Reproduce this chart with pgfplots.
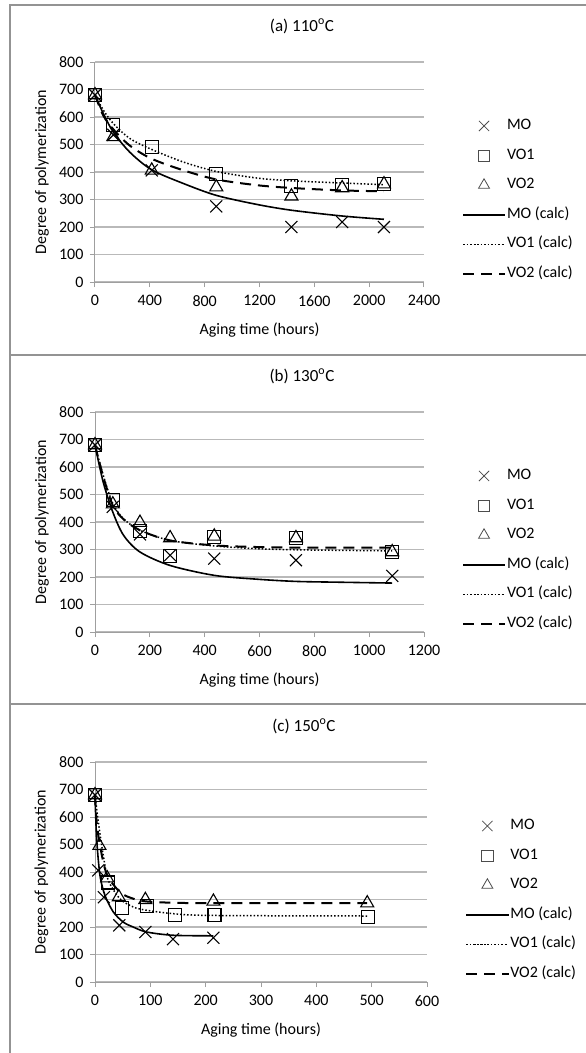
\documentclass[border=0pt]{standalone}
\usepackage{fontspec}
\setmainfont{Carlito}
\usepackage{pgfplots}
\pgfplotsset{compat=1.18}
\newcommand\fs{\fontsize{16}{19}\selectfont}

\pgfplotsset{
  dp/.style={
    scale only axis, width=329pt, height=220pt,
    ymin=0, ymax=800, ytick={0,100,...,800},
    axis lines=left, axis line style={draw=gray!75, line width=1pt, -},
    ymajorgrids, grid style={gray!55, line width=1.3pt},
    tick align=outside, major tick length=5pt,
    tick style={gray!75, line width=1pt},
    xtick pos=bottom, ytick pos=left,
    /pgf/number format/assume math mode=true,
    /pgf/number format/set thousands separator={},
    tick label style={font=\fs},
    xticklabel style={yshift=-5pt},
    yticklabel style={xshift=-3pt},
    clip=false,
    xlabel={Aging time (hours)},
    ylabel={Degree of polymerization},
    xlabel style={font=\fs, at={(axis description cs:0.5,-0.218)}, anchor=center},
    ylabel style={font=\fs, at={(axis description cs:-0.161,0.5)}, anchor=center},
    title style={font=\fontsize{17}{20}\selectfont, at={(axis description cs:0.629,1.136)}, anchor=center},
    legend style={at={(axis description cs:1.115,0.373)}, anchor=west, draw=none, fill=none,
      font=\fs, inner sep=0pt, row sep=12.6pt,
      nodes={text height=11pt, text depth=4pt, inner sep=1pt}},
    legend cell align=left,
    legend image code/.code={\draw[mark repeat=2,mark phase=2,#1,
      every mark/.append style={line width=0.8pt, draw=black!70, scale=0.85}]
      plot coordinates {(0pt,0pt) (21pt,0pt) (42pt,0pt)};},
  },
  mo/.style={only marks, mark=x, mark size=8.5pt, mark options={line width=1.1pt}, black},
  vo1/.style={only marks, mark=square, mark size=6.5pt, mark options={line width=1.1pt}, black},
  vo2/.style={only marks, mark=triangle, mark size=7.5pt, mark options={line width=1.1pt}, black},
  moc/.style={no marks, black, line width=1.6pt, smooth, tension=0.5},
  vo1c/.style={no marks, black, line width=1.5pt, dash pattern=on 1.5pt off 2pt, smooth, tension=0.5},
  vo2c/.style={no marks, black, line width=2pt, dash pattern=on 11pt off 7pt, smooth, tension=0.5},
}

\begin{document}
\begin{tikzpicture}
\path[use as bounding box] (0pt,0pt) rectangle (586pt,-1053pt);
\draw[gray!85, line width=1.5pt] (600pt,-5pt) -- (10pt,-5pt) -- (10pt,-1060pt);
\draw[gray!85, line width=1.5pt] (10pt,-355pt) -- (600pt,-355pt);
\draw[gray!85, line width=1.5pt] (10pt,-704pt) -- (600pt,-704pt);

% (a) 110 C
\begin{axis}[dp, at={(95pt,-282pt)}, anchor=south west,
  xmin=0, xmax=2400, xtick={0,400,...,2400},
  title={(a) 110\textsuperscript{o}C}]
\addplot[mo] coordinates {(0,680) (134,535) (414,406) (885,275) (1433,200) (1803,218) (2108,200)};
\addlegendentry{MO}
\addplot[vo1] coordinates {(0,680) (134,570) (414,491) (885,394) (1433,348) (1803,354) (2108,358)};
\addlegendentry{VO1}
\addplot[vo2] coordinates {(0,680) (134,528) (414,406) (885,345) (1433,312) (1803,342) (2108,356)};
\addlegendentry{VO2}
\addplot[moc] coordinates {(0,680) (61,612) (134,545) (254,472) (414,408) (646,358) (885,315) (1182,282) (1433,261) (1803,240) (2108,228)};
\addlegendentry{MO (calc)}
\addplot[vo1c] coordinates {(0,680) (61,625) (134,576) (254,522) (414,482) (646,436) (885,402) (1182,378) (1433,368) (1803,360) (2108,354)};
\addlegendentry{VO1 (calc)}
\addplot[vo2c] coordinates {(0,680) (61,605) (134,555) (254,496) (414,448) (646,406) (885,373) (1182,352) (1433,342) (1803,333) (2108,330)};
\addlegendentry{VO2 (calc)}
\end{axis}

% (b) 130 C
\begin{axis}[dp, at={(95pt,-632pt)}, anchor=south west,
  xmin=0, xmax=1200, xtick={0,200,...,1200},
  title={(b) 130\textsuperscript{o}C}]
\addplot[mo] coordinates {(0,680) (65,455) (164,355) (274,279) (435,267) (733,261) (1084,204)};
\addlegendentry{MO}
\addplot[vo1] coordinates {(0,680) (65,479) (164,366) (274,276) (435,346) (733,343) (1084,291)};
\addlegendentry{VO1}
\addplot[vo2] coordinates {(0,680) (65,465) (164,398) (274,342) (435,348) (733,342) (1084,291)};
\addlegendentry{VO2}
\addplot[moc] coordinates {(0,680) (30,545) (65,436) (104,352) (164,291) (274,242) (435,206) (591,192) (733,184) (895,181) (1084,178)};
\addlegendentry{MO (calc)}
\addplot[vo1c] coordinates {(0,680) (30,570) (65,467) (104,412) (164,370) (274,333) (435,313) (591,303) (733,299) (895,297) (1084,295)};
\addlegendentry{VO1 (calc)}
\addplot[vo2c] coordinates {(0,680) (30,565) (65,460) (104,410) (164,370) (274,333) (435,315) (591,309) (733,307) (895,307) (1084,307)};
\addlegendentry{VO2 (calc)}
\end{axis}

% (c) 150 C
\begin{axis}[dp, at={(95pt,-982pt)}, anchor=south west, width=332pt,
  xmin=0, xmax=600, xtick={0,100,...,600},
  title={(c) 150\textsuperscript{o}C}]
\addplot[mo] coordinates {(0,680) (6,406) (16,308) (44,206) (91,182) (141,156) (214,161)};
\addlegendentry{MO}
\addplot[vo1] coordinates {(0,680) (24,362) (48,268) (94,275) (144,245) (216,244) (494,236)};
\addlegendentry{VO1}
\addplot[vo2] coordinates {(0,680) (8,496) (22,378) (43,309) (91,299) (214,293) (492,287)};
\addlegendentry{VO2}
\addplot[moc] coordinates {(0,680) (3,521) (9,388) (18,315) (33,255) (51,218) (69,200) (93,182) (141,170) (214,168)};
\addlegendentry{MO (calc)}
\addplot[vo1c] coordinates {(0,680) (6,582) (15,460) (24,370) (45,303) (69,273) (93,261) (144,248) (214,242) (494,240)};
\addlegendentry{VO1 (calc)}
\addplot[vo2c] coordinates {(0,680) (3,582) (9,497) (21,394) (45,327) (69,303) (93,293) (144,288) (214,287) (492,287)};
\addlegendentry{VO2 (calc)}
\end{axis}
\end{tikzpicture}
\end{document}
